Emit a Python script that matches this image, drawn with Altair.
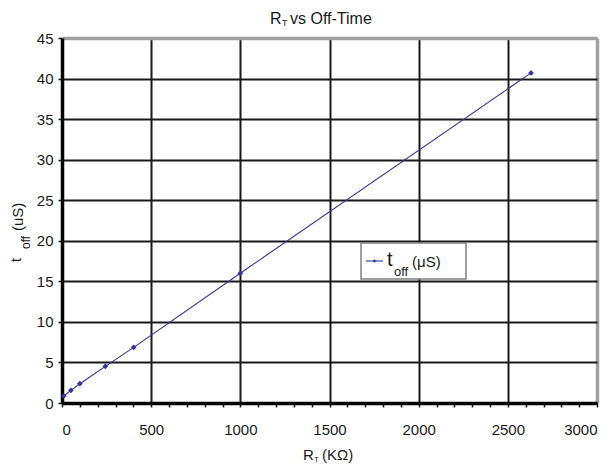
import altair as alt
import pandas as pd

# data
rt_kohm = [10, 50, 100, 243, 402, 1000, 2630]
toff_us = [0.86, 1.56, 2.38, 4.52, 6.86, 16.0, 40.7]

x_ticks = list(range(0, 3001, 100))
y_ticks = list(range(0, 46, 5))

df = pd.DataFrame({"rt": rt_kohm, "toff": toff_us})

FONT = "Liberation Sans"
INK = "#1a1a1a"
NAVY = "#333399"

W, H = 535, 365

x_axis = alt.Axis(
    values=x_ticks,
    labelExpr="datum.value % 500 === 0 ? datum.label : ''",
    format="d",
    title=None,
    labelFont=FONT,
    labelFontSize=15,
    labelColor=INK,
    labelPadding=15,
    labelOverlap=False,
    tickSize=4,
    tickColor=INK,
    tickWidth=1.5,
    domainColor="#000000",
    domainWidth=3.5,
    grid=True,
    gridOpacity={"condition": {"test": "datum.value % 500 === 0", "value": 1}, "value": 0},
    gridColor={"condition": {"test": "datum.value === 3000", "value": "#a0a0a0"}, "value": INK},
    gridWidth={"condition": {"test": "datum.value === 3000", "value": 3.5}, "value": 2},
)

y_axis = alt.Axis(
    values=y_ticks,
    title=None,
    labelFont=FONT,
    labelFontSize=15,
    labelColor=INK,
    labelPadding=5,
    tickSize=4,
    tickColor=INK,
    tickWidth=1.5,
    domainColor="#000000",
    domainWidth=3.5,
    grid=True,
    gridColor={"condition": {"test": "datum.value === 45", "value": "#a0a0a0"}, "value": INK},
    gridWidth={"condition": {"test": "datum.value === 45", "value": 3.5}, "value": 2},
)

base = alt.Chart(df).encode(
    x=alt.X("rt:Q", scale=alt.Scale(domain=[0, 3000], nice=False), axis=x_axis),
    y=alt.Y("toff:Q", scale=alt.Scale(domain=[0, 45], nice=False), axis=y_axis),
)

line = base.mark_line(color=NAVY, strokeWidth=1.1)
pts = base.mark_point(shape="diamond", filled=True, color=NAVY, size=32, opacity=1)

one = alt.Data(values=[{}])


def txt(s, x, y, size, angle=0):
    kw = dict(text=s, font=FONT, fontSize=size, color=INK, align="left", baseline="alphabetic")
    if angle:
        kw["angle"] = angle
    return alt.Chart(one).mark_text(**kw).encode(x=alt.value(x), y=alt.value(y))


# chart title  "R_T vs Off-Time"
title = [
    txt("R", 208, -14, 16),
    txt("T", 220, -12, 9),
    txt("vs Off-Time", 228, -14, 16),
]

# x title "R_T (KΩ)"
xtitle = [
    txt("R", 241, 422, 15),
    txt("T", 252, 424, 8),
    txt("(KΩ)", 260, 422, 15),
]

# y title "t_off (uS)" rotated
ytitle = [
    txt("t", -41, 224, 14, angle=270),
    txt("off", -32, 211, 12, angle=270),
    txt("(uS)", -39, 193, 15, angle=270),
]

# legend
legend_box = alt.Chart(one).mark_rect(fill="white", stroke="#808080", strokeWidth=1.5).encode(
    x=alt.value(299), x2=alt.value(404), y=alt.value(205), y2=alt.value(241)
)
legend_line = alt.Chart(one).mark_rule(color=NAVY, strokeWidth=1.1).encode(
    x=alt.value(304), x2=alt.value(321), y=alt.value(223)
)
legend_pt = alt.Chart(one).mark_point(shape="diamond", filled=True, color=NAVY, size=12, opacity=1).encode(
    x=alt.value(312.5), y=alt.value(223)
)
legend_txt = [
    txt("t", 325, 228, 20),
    txt("off", 332, 238, 13),
    txt("(μS)", 350, 229, 15),
]

chart = alt.layer(
    line, pts, *title, *xtitle, *ytitle, legend_box, legend_line, legend_pt, *legend_txt
).properties(
    width=W,
    height=H,
    autosize=alt.AutoSizeParams(type="none"),
    padding={"left": 54, "top": 30, "right": 8, "bottom": 62},
).configure_view(stroke=None).configure(background="white")

chart.save("out.html", embed_options={"renderer": "svg", "actions": False})
